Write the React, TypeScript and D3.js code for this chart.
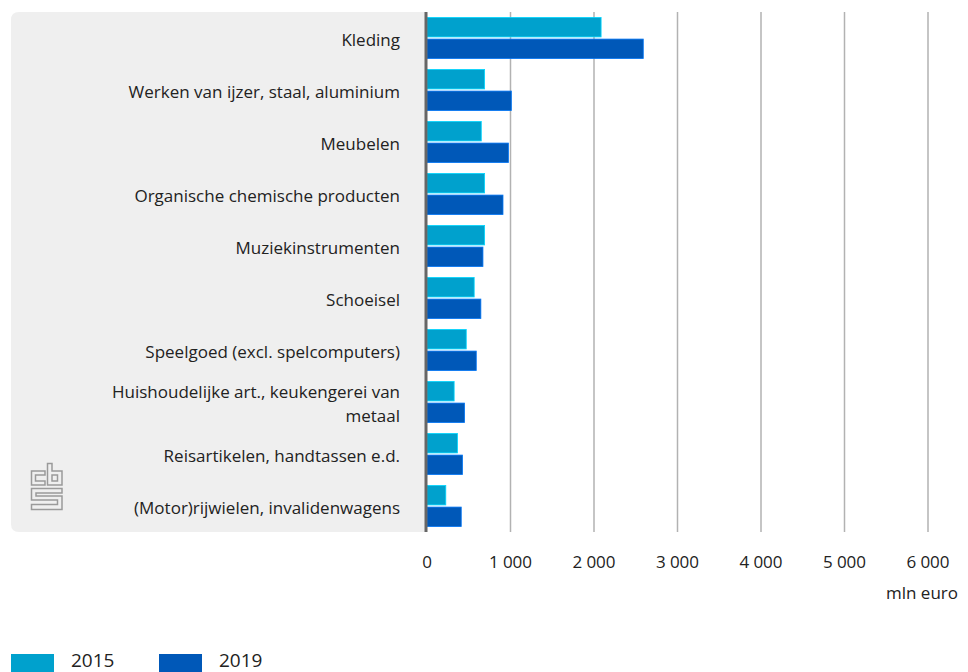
import React from "react";
import * as d3 from "d3";

const categories = [
  "Kleding",
  "Werken van ijzer, staal, aluminium",
  "Meubelen",
  "Organische chemische producten",
  "Muziekinstrumenten",
  "Schoeisel",
  "Speelgoed (excl. spelcomputers)",
  "Huishoudelijke art., keukengerei van metaal",
  "Reisartikelen, handtassen e.d.",
  "(Motor)rijwielen, invalidenwagens",
];
const labelLines: string[][] = [
  ["Kleding"],
  ["Werken van ijzer, staal, aluminium"],
  ["Meubelen"],
  ["Organische chemische producten"],
  ["Muziekinstrumenten"],
  ["Schoeisel"],
  ["Speelgoed (excl. spelcomputers)"],
  ["Huishoudelijke art., keukengerei van", "metaal"],
  ["Reisartikelen, handtassen e.d."],
  ["(Motor)rijwielen, invalidenwagens"],
];
const values2015 = [2085, 690, 650, 690, 690, 565, 470, 325, 365, 225];
const values2019 = [2590, 1010, 975, 910, 670, 645, 590, 450, 425, 410];
const seriesNames = ["2015", "2019"];
const seriesColors = ["#00a1cd", "#0058b8"];
const xTicks = [0, 1000, 2000, 3000, 4000, 5000, 6000];
const unitLabel = "mln euro";

const W = 968;
const H = 672;
const FONT = "'Open Sans', 'Noto Sans', sans-serif";

export default function App() {
  const x = d3.scaleLinear().domain([0, 6000]).range([427, 928]);
  const y = d3.scaleBand<string>().domain(categories).range([12, 532]).paddingInner(0.21).paddingOuter(0.105);
  const sub = d3.scaleBand<string>().domain(seriesNames).range([0, y.bandwidth()]).paddingInner(0.1);
  const fmt = d3.formatLocale({ decimal: ",", thousands: "\u2005", grouping: [3], currency: ["€", ""] }).format(",d");
  const series = [values2015, values2019];

  return (
    <svg width={W} height={H} style={{ position: "absolute", left: 0, top: 0 }} fontFamily={FONT}>
      <path d={`M427,12 H19 Q11,12 11,20 V524 Q11,532 19,532 H427 Z`} fill="#efefef" />
      {xTicks.slice(1).map((t) => (
        <line key={t} x1={x(t)} x2={x(t)} y1={12} y2={532} stroke="#b2b2b2" strokeWidth={1.5} />
      ))}
      {categories.map((c, i) => (
        <g key={c}>
          {series.map((vals, s) => (
            <rect
              key={s}
              x={x(0)}
              y={(y(c) as number) + (sub(seriesNames[s]) as number)}
              width={x(vals[i]) - x(0)}
              height={sub.bandwidth()}
              fill={seriesColors[s]}
              stroke={d3.color(seriesColors[s])!.brighter(0.8).formatHex()}
              strokeWidth={0.8}
            />
          ))}
          <text
            x={400}
            y={(y(c) as number) + y.bandwidth() / 2 + 8 - (labelLines[i].length - 1) * 12}
            textAnchor="end"
            fontSize={17}
            fill="#222"
          >
            {labelLines[i].map((l, k) => (
              <tspan key={k} x={400} dy={k === 0 ? 0 : 24}>
                {l}
              </tspan>
            ))}
          </text>
        </g>
      ))}
      <line x1={x(0) - 1} x2={x(0) - 1} y1={12} y2={532} stroke="#666" strokeWidth={3} />
      {xTicks.map((t) => (
        <text key={t} x={x(t)} y={568} textAnchor="middle" fontSize={17} fill="#222">
          {fmt(t)}
        </text>
      ))}
      <text x={958} y={599} textAnchor="end" fontSize={17} fill="#222">
        {unitLabel}
      </text>
      <g fill="none" stroke="#9a9a9a" strokeWidth={1.5}>
        <path d="M45,471 H31.5 V485 H45 V481 H35.5 V475 H45 Z" />
        <path d="M47.5,463.5 H52 V471 H62 V485 H47.5 Z" />
        <path d="M52,475 H57.5 V481 H52 Z" />
        <path d="M62,488.5 H31.5 V500 H57.5 V504.5 H31.5 V509.5 H62 V496 H36 V493 H62 Z" />
      </g>
      {seriesNames.map((s, i) => (
        <g key={s} transform={`translate(${11 + i * 148},654)`}>
          <rect width={43} height={20} fill={seriesColors[i]} />
          <text x={60} y={12.5} fontSize={19} fill="#222">
            {s}
          </text>
        </g>
      ))}
    </svg>
  );
}
